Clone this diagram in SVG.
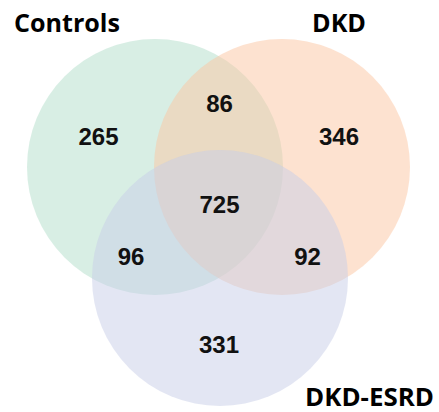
<svg xmlns="http://www.w3.org/2000/svg" width="439" height="412" viewBox="0 0 439 412">
<style>
.set{fill-opacity:0.5;stroke:none}
.title{font-family:"Open Sans","Liberation Sans",Arial,sans-serif;font-weight:bold;font-size:25px;fill:#000}
.num{font-family:"Liberation Sans",Arial,sans-serif;font-weight:bold;font-size:24px;fill:#111;text-anchor:middle}
</style>
<rect width="439" height="412" fill="#ffffff"/>
<g id="controls">
<circle class="set" cx="155" cy="167" r="128" fill="#b1ddc9"/>
<text class="title" x="14" y="32" textLength="106" lengthAdjust="spacingAndGlyphs">Controls</text>
</g>
<g id="dkd">
<circle class="set" cx="282" cy="167" r="128" fill="#fbc5a1"/>
<text class="title" x="312" y="32" textLength="54" lengthAdjust="spacingAndGlyphs">DKD</text>
</g>
<g id="dkd-esrd">
<circle class="set" cx="220" cy="278" r="128" fill="#c7cde7"/>
<text class="title" x="305" y="406" textLength="129" lengthAdjust="spacingAndGlyphs">DKD-ESRD</text>
</g>
<g id="counts">
<text class="num" x="98.5" y="145">265</text>
<text class="num" x="219.5" y="112">86</text>
<text class="num" x="339" y="145">346</text>
<text class="num" x="219.5" y="213">725</text>
<text class="num" x="131" y="265">96</text>
<text class="num" x="307.5" y="265">92</text>
<text class="num" x="219" y="353">331</text>
</g>
</svg>
